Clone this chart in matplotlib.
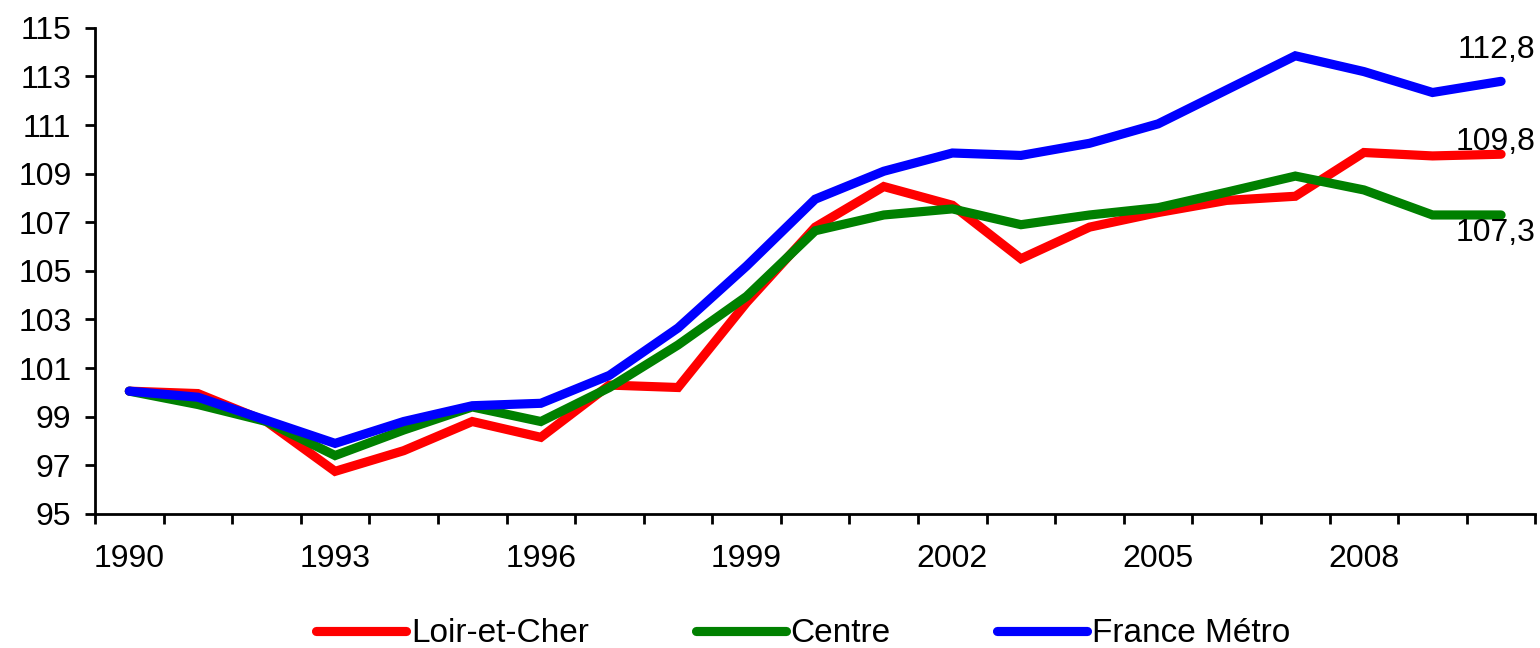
import matplotlib
matplotlib.use("Agg")
import matplotlib.pyplot as plt
import numpy as np

plt.rcParams['font.family'] = ['Liberation Sans', 'DejaVu Sans']

# Données
annees = list(range(1990, 2011))
loir_et_cher = [100.05, 99.95, 98.8, 96.75, 97.6, 98.8, 98.15, 100.3, 100.2, 103.7, 106.8,
                108.47, 107.7, 105.5, 106.8, 107.4, 107.9, 108.07, 109.87, 109.73, 109.8]
centre = [100.05, 99.5, 98.8, 97.4, 98.45, 99.4, 98.8, 100.2, 101.95, 103.95, 106.65,
          107.3, 107.55, 106.9, 107.3, 107.6, 108.24, 108.9, 108.33, 107.3, 107.3]
france_metro = [100.05, 99.8, 98.85, 97.9, 98.8, 99.45, 99.55, 100.7, 102.65, 105.2, 107.95,
                109.1, 109.85, 109.75, 110.25, 111.05, 112.45, 113.85, 113.2, 112.34, 112.8]
labels_fin = ["109,8", "107,3", "112,8"]

series = [("Loir-et-Cher", loir_et_cher, "#ff0000"),
          ("Centre", centre, "#008000"),
          ("France Métro", france_metro, "#0000ff")]

fs = 23

fig = plt.figure(figsize=(15.4, 6.48), dpi=100)
ax = fig.add_axes([0.0617, 0.207, 0.9353, 0.750])

x = np.arange(len(annees))
for nom, vals, col in series:
    ax.plot(x, vals, color=col, lw=6.6, label=nom, solid_capstyle='round', solid_joinstyle='miter')

# Valeurs finales
ax.text(20.5, france_metro[-1] + 1.3, labels_fin[2], ha='right', va='center', fontsize=fs)
ax.text(20.5, loir_et_cher[-1] + 0.5, labels_fin[0], ha='right', va='center', fontsize=fs)
ax.text(20.5, centre[-1] - 0.74, labels_fin[1], ha='right', va='center', fontsize=fs)

ax.set_xlim(-0.5, 20.5)
ax.set_ylim(95, 115)
ax.set_yticks(np.arange(95, 116, 2))
ax.set_xticks(np.arange(0, 21, 3))
ax.set_xticklabels([str(a) for a in annees[::3]])
ax.set_xticks(np.arange(-0.5, 21, 1), minor=True)
ax.tick_params(axis='x', which='major', length=0, pad=22, labelsize=fs)
ax.tick_params(axis='x', which='minor', length=7, width=2, direction='out')
ax.tick_params(axis='y', length=7, width=2, direction='out', labelsize=fs, pad=10)

for s in ['top', 'right']:
    ax.spines[s].set_visible(False)
for s in ['left', 'bottom']:
    ax.spines[s].set_linewidth(2)

fig.legend(loc='center', bbox_to_anchor=(0.5216, 0.022), ncol=3, frameon=False,
           fontsize=24, handlelength=2.7, handletextpad=0.15, columnspacing=3.2)

fig.savefig("out.png", dpi=100)
